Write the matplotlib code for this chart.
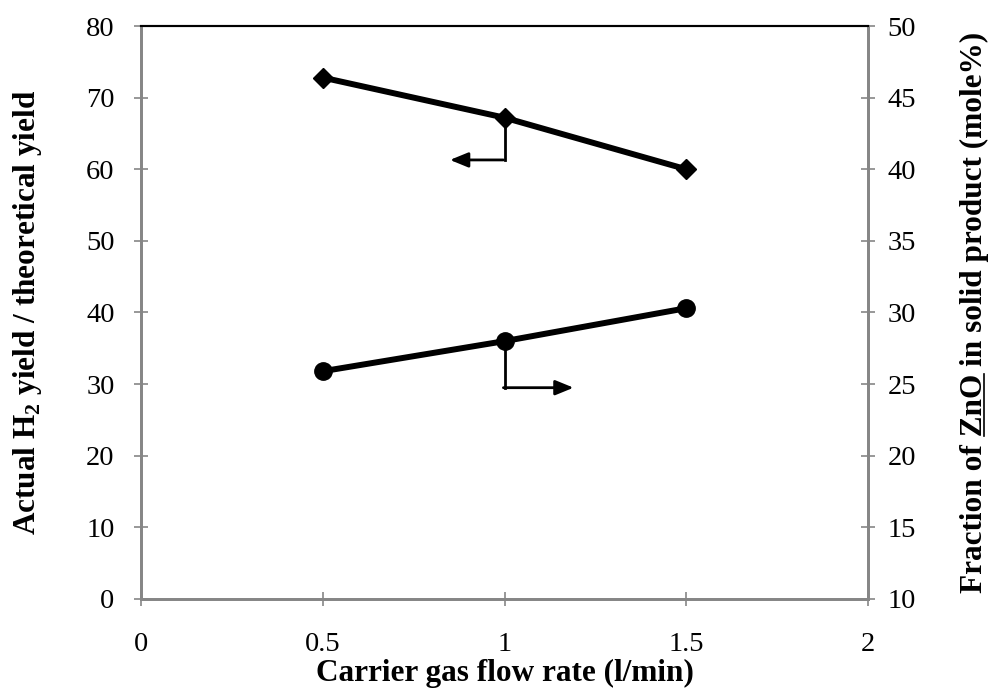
import matplotlib
matplotlib.use("Agg")
import matplotlib.pyplot as plt
from matplotlib.lines import Line2D

plt.rcParams['font.family'] = ['Liberation Serif', 'DejaVu Serif']
plt.rcParams['mathtext.fontset'] = 'custom'
plt.rcParams['mathtext.rm'] = 'Liberation Serif'
plt.rcParams['mathtext.bf'] = 'Liberation Serif:bold'

flow = [0.5, 1.0, 1.5]
h2_yield = [72.8, 67.2, 60.0]          # left axis
zno_fraction = [25.9, 28.0, 30.3]      # right axis (mole%)

x_ticks = [0, 0.5, 1, 1.5, 2]
x_ticklabels = ['0', '0.5', '1', '1.5', '2']
left_ticks = [0, 10, 20, 30, 40, 50, 60, 70, 80]
right_ticks = [10, 15, 20, 25, 30, 35, 40, 45, 50]

TICK_FS = 20.5
LABEL_FS = 22.5

fig = plt.figure(figsize=(10, 6.88), dpi=100)
ax = fig.add_axes([0.141, 0.1294, 0.727, 0.8328])
ax2 = ax.twinx()

grey = '#868686'
ax.plot(flow, h2_yield, color='black', lw=4.3, marker='D', ms=10, zorder=3)
ax2.plot(flow, zno_fraction, color='black', lw=4.3, marker='o', ms=12.5, zorder=3)

ax.set_xlim(0, 2)
ax.set_ylim(0, 80)
ax2.set_ylim(10, 50)
ax.set_xticks(x_ticks)
ax.set_xticklabels(x_ticklabels)
ax.set_yticks(left_ticks)
ax2.set_yticks(right_ticks)

for a in (ax, ax2):
    for s in ('left', 'right', 'bottom'):
        a.spines[s].set_color(grey)
        a.spines[s].set_linewidth(2)
    a.spines['top'].set_color('black')
    a.spines['top'].set_linewidth(1.5)
    a.tick_params(direction='inout', length=10, width=1.2, color=grey,
                  labelsize=TICK_FS)
ax.tick_params(axis='x', pad=18.5)
ax.tick_params(axis='y', pad=14)
ax2.tick_params(axis='y', pad=9)

ax.set_xlabel('Carrier gas flow rate (l/min)', fontsize=LABEL_FS, fontweight='bold', labelpad=1.5)
ax.set_ylabel(r'Actual H$_\mathbf{2}$ yield / theoretical yield', fontsize=LABEL_FS,
              fontweight='bold', labelpad=30)
right_label = 'Fraction of ZnO in solid product (mole%)'
ylab = ax2.set_ylabel(right_label, fontsize=LABEL_FS, fontweight='bold', labelpad=32)

# axis-indicator arrows
drop_left = 5.9
arrow_left_len = 0.15
drop_right = 3.25
arrow_right_len = 0.19
xa = flow[1]
ya = h2_yield[1]
astyle = '-|>,head_length=1.1,head_width=0.45'
ax.plot([xa, xa], [ya, ya - drop_left], color='black', lw=2.0, zorder=2)
ax.annotate('', xy=(xa - arrow_left_len, ya - drop_left), xytext=(xa - 0.003, ya - drop_left),
            arrowprops=dict(arrowstyle=astyle, color='black', lw=2.0, shrinkA=0, shrinkB=0))
yb = zno_fraction[1]
ax2.plot([xa, xa], [yb, yb - drop_right], color='black', lw=2.0, zorder=2)
ax2.annotate('', xy=(xa + arrow_right_len, yb - drop_right), xytext=(xa - 0.003, yb - drop_right),
             arrowprops=dict(arrowstyle=astyle, color='black', lw=2.0, shrinkA=0, shrinkB=0))

# underline "ZnO" in the right label
fig.canvas.draw()
r = fig.canvas.get_renderer()
bb = ylab.get_window_extent(r)
def textwidth(s):
    t = fig.text(0, 0, s, fontsize=LABEL_FS, fontweight='bold')
    w = t.get_window_extent(r).width
    t.remove()
    return w
w_pre = textwidth('Fraction of ')
w_zno = textwidth('Fraction of ZnO')
W, H = fig.bbox.width, fig.bbox.height
xline = bb.x1 - 5
y0 = bb.y0 + w_pre
y1 = bb.y0 + w_zno
fig.add_artist(Line2D([xline / W, xline / W], [y0 / H, y1 / H], color='black', lw=1.2))

fig.savefig('out.png', dpi=100)
